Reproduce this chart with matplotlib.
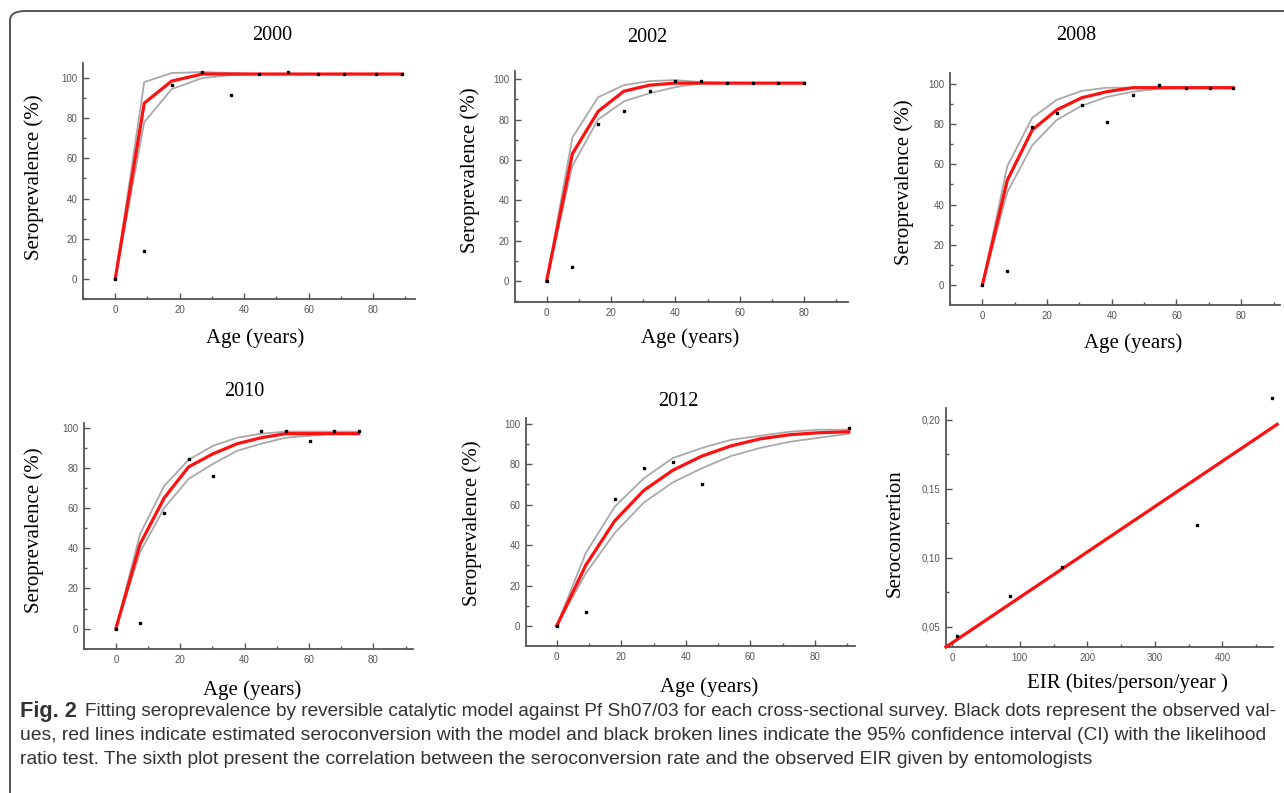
import matplotlib
matplotlib.use("Agg")
import matplotlib.pyplot as plt
from matplotlib.patches import FancyBboxPatch
from matplotlib.ticker import MultipleLocator, FuncFormatter

# ---- data ----
# 2000 survey
age_2000 = [0, 9, 17.5, 27, 36, 44.5, 53.5, 63, 71, 81, 89]
obs_2000 = [0, 14, 96.5, 103, 91.5, 102, 103, 102, 102, 102, 102]
fit_2000 = [0, 87.5, 98.5, 102, 102, 102, 102, 102, 102, 102, 102]
up_2000 = [0, 98, 102.5, 103, 102.5, 102, 102, 102, 102, 102, 102]
lo_2000 = [0, 78, 94.5, 100, 101.5, 102, 102, 102, 102, 102, 102]

# 2002 survey
age_2002 = [0, 8, 16, 24, 32, 40, 48, 56, 64, 72, 80]
obs_2002 = [0, 7, 78, 84, 94, 99, 99, 98, 98, 98, 98]
fit_2002 = [0, 63, 84, 94, 97, 98, 98, 98, 98, 98, 98]
up_2002 = [0, 71, 91, 97, 99, 99.5, 98.5, 98, 98, 98, 98]
lo_2002 = [0, 57, 80, 89, 93, 96, 98, 98, 98, 98, 98]

# 2008 survey
age_2008 = [0, 7.7, 15.4, 23, 30.7, 38.4, 46.5, 54.5, 63, 70.5, 77.5]
obs_2008 = [0, 7, 78.5, 85.5, 89.3, 81, 94.2, 99.2, 98, 98, 98]
fit_2008 = [0, 52, 77, 87, 93, 96, 98, 98, 98, 98, 98]
up_2008 = [0, 59, 83, 92, 96.4, 98, 98, 98, 98, 98, 98]
lo_2008 = [0, 46, 69.4, 82, 89, 93.4, 96, 97.5, 98, 98, 98]

# 2010 survey
obs_age_2010 = [0, 7.5, 15, 22.6, 30.2, 45.2, 52.8, 60.3, 67.8, 75.4]
obs_2010 = [0, 3, 57.4, 84.2, 76, 98.2, 98.2, 93.2, 98.2, 98.2]
age_2010 = [0, 7.5, 15, 22.6, 30.2, 37.7, 45.2, 52.8, 60.3, 67.8, 75.4]
fit_2010 = [0, 42, 65, 80.5, 87, 92, 95, 97, 97, 97, 97]
up_2010 = [0, 47, 71, 84, 91, 95, 97, 98, 98, 98, 98]
lo_2010 = [0, 38, 60, 74.5, 82, 88.5, 92, 95, 96, 97, 97.5]

# 2012 survey
obs_age_2012 = [0, 9, 18, 27, 36, 45, 90.5]
obs_2012 = [0, 7, 63, 78, 81, 70, 98]
age_2012 = [0, 9, 18, 27, 36, 45, 54, 63, 72, 81, 90.5]
fit_2012 = [0, 30, 52, 67, 77, 84, 89, 92.5, 94.5, 95.5, 96]
up_2012 = [0, 36, 59, 73, 83, 88, 92, 94, 96, 97, 97]
lo_2012 = [0, 26, 46, 61, 71, 78, 84, 88, 91, 93, 95]

# seroconversion vs EIR
eir = [7, 86, 162, 363, 473]
seroconv = [0.0437, 0.0727, 0.0934, 0.124, 0.2157]
eir_line = [-9.4, 481]
seroconv_line = [0.0355, 0.1966]

caption = [
    "Fitting seroprevalence by reversible catalytic model against Pf Sh07/03 for each cross-sectional survey. Black dots represent the observed val-",
    "ues, red lines indicate estimated seroconversion with the model and black broken lines indicate the 95% confidence interval (CI) with the likelihood",
    "ratio test. The sixth plot present the correlation between the seroconversion rate and the observed EIR given by entomologists",
]

# ---- figure ----
W, H = 1284, 793
fig = plt.figure(figsize=(W / 100, H / 100), dpi=100)


def fx(x):
    return x / W


def fy(y):
    return 1 - y / H


def make_axes(left, top, right, bottom):
    ax = fig.add_axes([fx(left), fy(bottom), fx(right - left), (bottom - top) / H])
    for s in ["top", "right"]:
        ax.spines[s].set_visible(False)
    for s in ["left", "bottom"]:
        ax.spines[s].set_color("#555555")
        ax.spines[s].set_linewidth(1.3)
    ax.tick_params(which="major", direction="in", length=4, width=1, color="#555555",
                   labelsize=7, labelcolor="#555555", pad=4)
    ax.tick_params(which="minor", direction="in", length=2, width=1, color="#555555")
    ax.patch.set_alpha(0)
    return ax


def tick_font(ax):
    for lab in ax.get_xticklabels() + ax.get_yticklabels():
        lab.set_family("Liberation Sans")


serif = "Liberation Serif"
red = "#ff1010"
grey = "#a9a9a9"

panels = [
    ("2000", (83, 63, 415, 299), (-10, 93), (-10, 107.5),
     age_2000, obs_2000, age_2000, fit_2000, up_2000, lo_2000,
     (272, 36), (34, 177), (255, 338)),
    ("2002", (515, 71, 848, 302), (-9.8, 93.6), (-10.3, 104),
     age_2002, obs_2002, age_2002, fit_2002, up_2002, lo_2002,
     (647, 37), (470, 170), (690, 338)),
    ("2008", (950, 73, 1280, 305), (-10, 92), (-9.9, 105.3),
     age_2008, obs_2008, age_2008, fit_2008, up_2008, lo_2008,
     (1076, 36), (904, 182), (1133, 343)),
    ("2010", (84, 423, 413, 649), (-9.9, 92.3), (-10.1, 102.3),
     obs_age_2010, obs_2010, age_2010, fit_2010, up_2010, lo_2010,
     (244, 391), (34, 530), (252, 690)),
    ("2012", (526, 418, 855, 646), (-9.5, 92.4), (-9.9, 102.8),
     obs_age_2012, obs_2012, age_2012, fit_2012, up_2012, lo_2012,
     (678, 401), (472, 523), (709, 687)),
]

for (title, box, xl, yl, oa, ov, fa, fv, uv, lv, tpos, ypos, xpos) in panels:
    ax = make_axes(*box)
    ax.plot(fa, uv, color=grey, lw=1.3, zorder=2)
    ax.plot(fa, lv, color=grey, lw=1.3, zorder=2)
    ax.plot(fa, fv, color=red, lw=2.3, zorder=3)
    ax.plot(oa, ov, "s", color="black", ms=2.1, zorder=4)
    ax.set_xlim(*xl)
    ax.set_ylim(*yl)
    ax.xaxis.set_major_locator(MultipleLocator(20))
    ax.xaxis.set_minor_locator(MultipleLocator(10))
    ax.yaxis.set_major_locator(MultipleLocator(20))
    ax.yaxis.set_minor_locator(MultipleLocator(10))
    ax.set_yticks([0, 20, 40, 60, 80, 100])
    tick_font(ax)
    fig.text(fx(tpos[0]), fy(tpos[1]), title, family=serif, fontsize=14.5,
             ha="center", va="center")
    fig.text(fx(ypos[0]), fy(ypos[1]), "Seroprevalence (%)", family=serif,
             fontsize=15, rotation=90, ha="center", va="center")
    fig.text(fx(xpos[0]), fy(xpos[1]), "Age (years)", family=serif, fontsize=15,
             ha="center", va="center")

# sixth panel: seroconversion against EIR
ax6 = make_axes(946, 408, 1273, 647)
ax6.plot(eir_line, seroconv_line, color=red, lw=2.3, clip_on=False, zorder=3)
ax6.plot(eir, seroconv, "s", color="black", ms=2.1, zorder=4, clip_on=False)
ax6.set_xlim(-9.3, 474.8)
ax6.set_ylim(0.0355, 0.2084)
ax6.xaxis.set_major_locator(MultipleLocator(100))
ax6.xaxis.set_minor_locator(MultipleLocator(50))
ax6.set_yticks([0.05, 0.10, 0.15, 0.20])
ax6.yaxis.set_minor_locator(MultipleLocator(0.025))
ax6.yaxis.set_major_formatter(FuncFormatter(lambda v, p: f"{v:.2f}".replace(".", ",")))
tick_font(ax6)
fig.text(fx(895), fy(533), "Seroconvertion", family=serif, fontsize=15,
         rotation=90, ha="center", va="center")
fig.text(fx(1127), fy(683), "EIR (bites/person/year )", family=serif, fontsize=15,
         ha="center", va="center")

# frame around the figure (only top and left edges are visible)
frame = FancyBboxPatch((fx(10), fy(805)), fx(1320 - 10), (805 - 11) / H,
                       boxstyle="round,pad=0,rounding_size=0.012",
                       transform=fig.transFigure, fill=False,
                       edgecolor="#555555", lw=1.4)
fig.patches.append(frame)

# caption, each line sized to the width it takes in the reference
renderer = fig.canvas.get_renderer()
cap_font = "Liberation Sans"
cap_col = "#333333"


def fit_width(t, width_px):
    for _ in range(4):
        w = t.get_window_extent(renderer).width
        t.set_fontsize(t.get_fontsize() * width_px / w)


fig_lbl = fig.text(fx(20), fy(712), "Fig. 2", family=cap_font, weight="bold",
                   fontsize=12, color=cap_col, ha="left", va="center")
fit_width(fig_lbl, 77 - 20)
line1 = fig.text(fx(85), fy(712), caption[0], family=cap_font, fontsize=11,
                 color=cap_col, ha="left", va="center")
fit_width(line1, 1276 - 85)
line2 = fig.text(fx(20), fy(736), caption[1], family=cap_font, fontsize=11,
                 color=cap_col, ha="left", va="center")
fit_width(line2, 1276 - 20)
fig.text(fx(20), fy(759), caption[2], family=cap_font, fontsize=line2.get_fontsize(),
         color=cap_col, ha="left", va="center")

fig.savefig("out.png", dpi=100)
